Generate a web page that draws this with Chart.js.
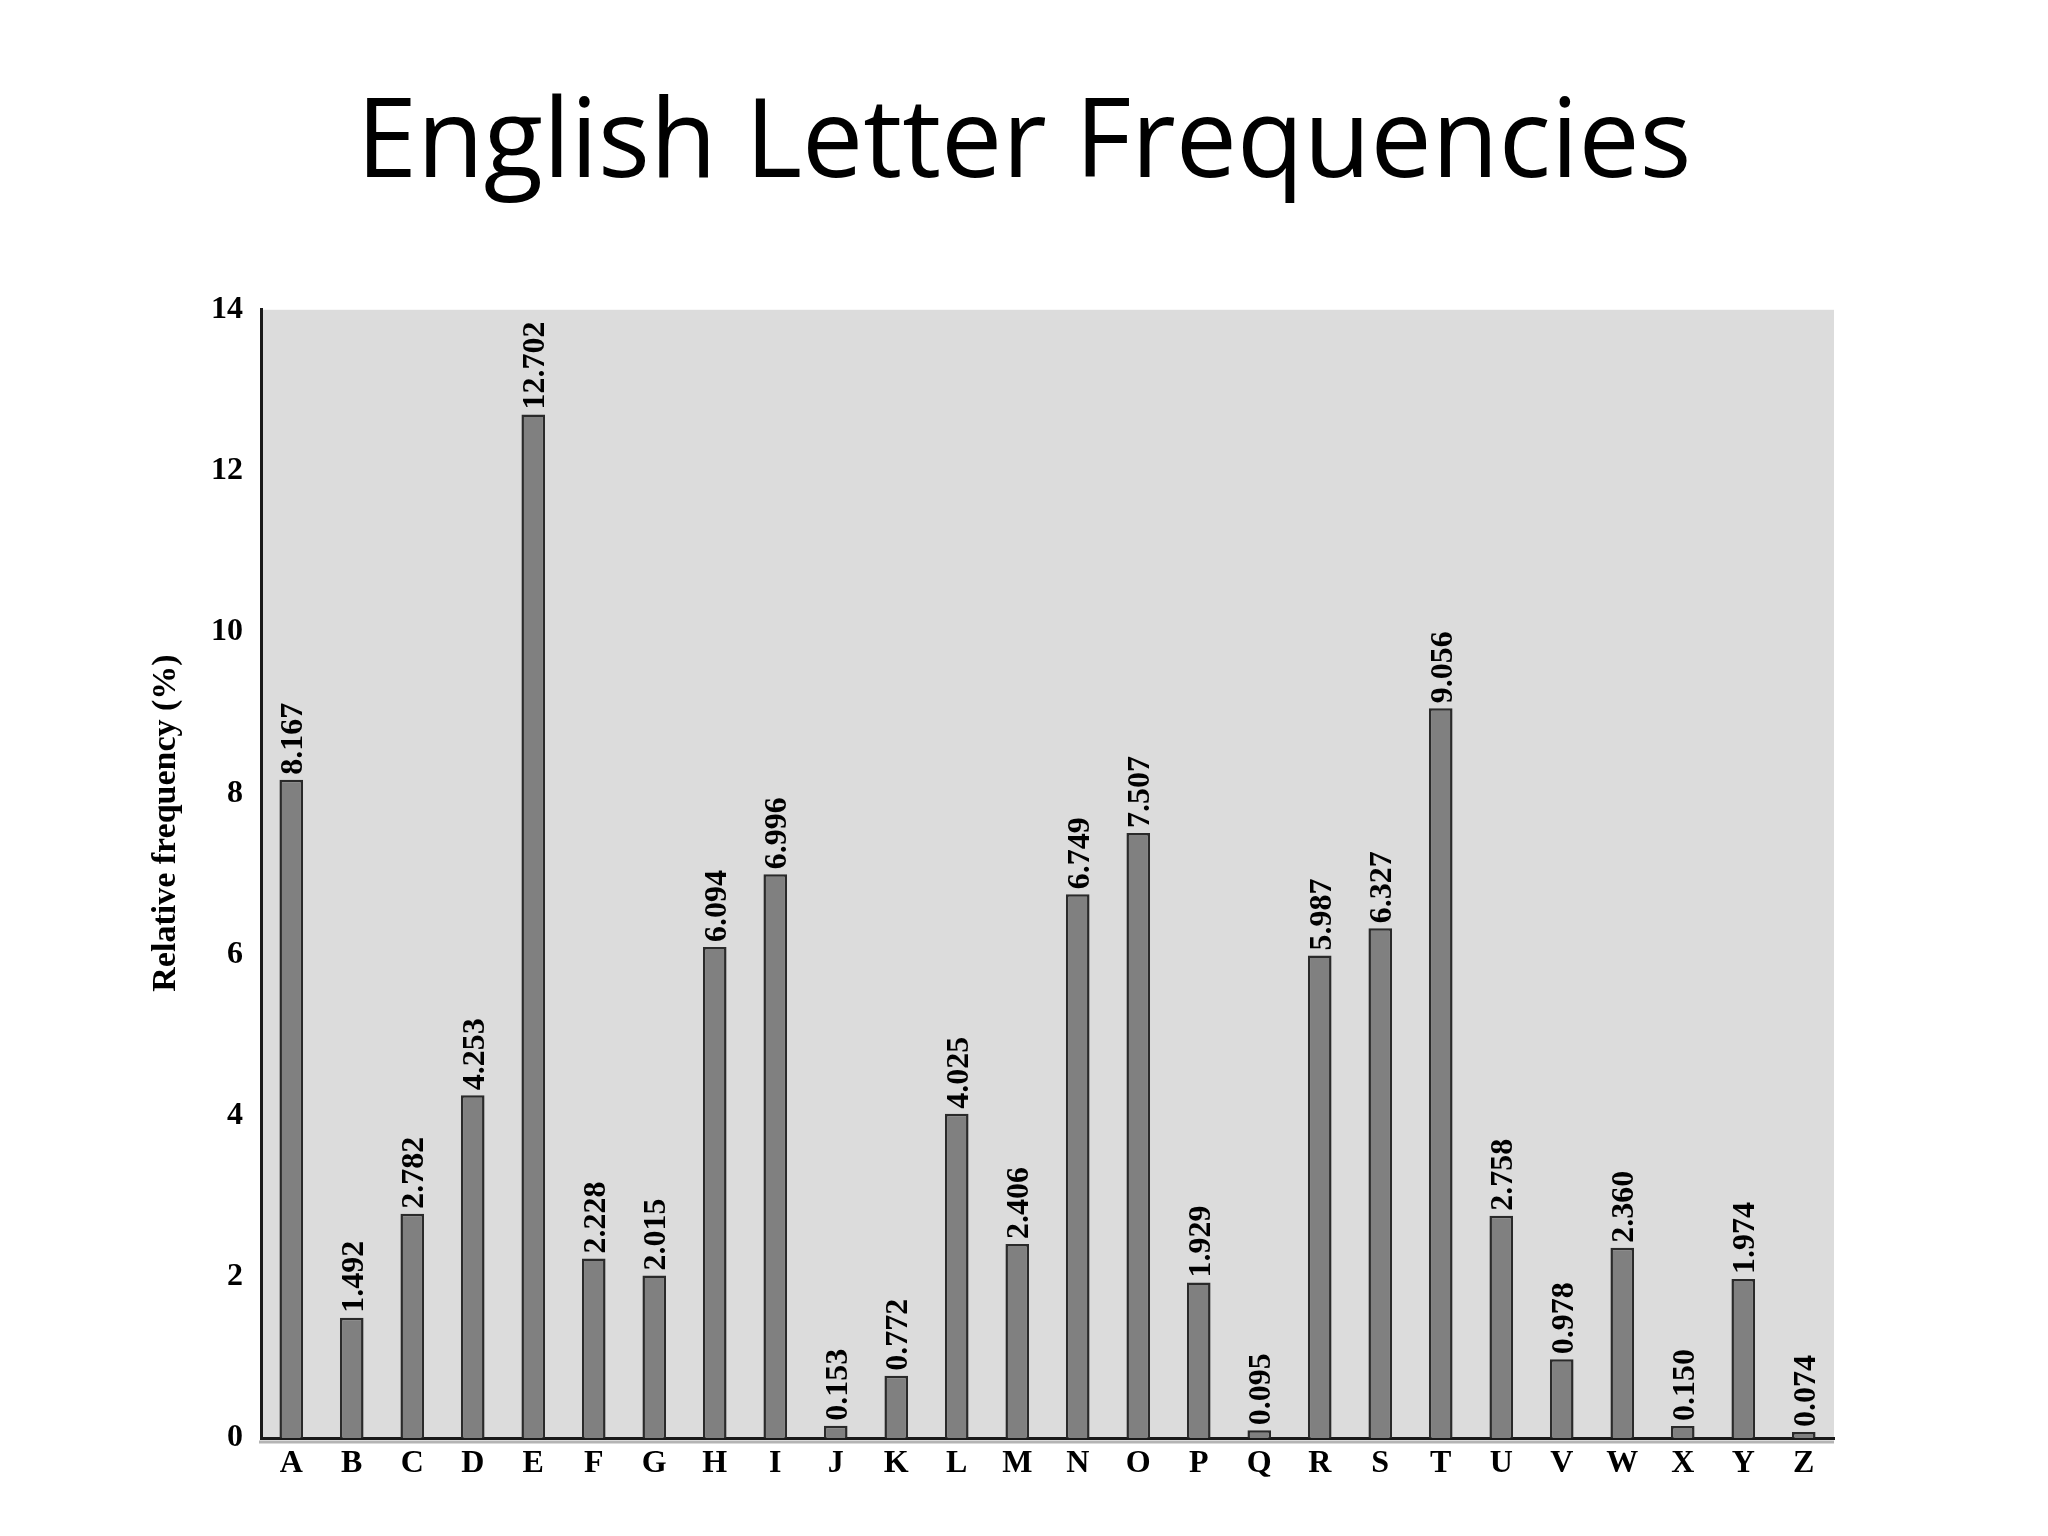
<!DOCTYPE html>
<html>
<head>
<meta charset="utf-8">
<script src="https://cdn.jsdelivr.net/npm/chart.js@4.4.1/dist/chart.umd.min.js"></script>
<style>
  html, body { margin: 0; padding: 0; background: #ffffff; }
  canvas { display: block; }
</style>
</head>
<body>
<canvas id="c" width="2048" height="1536" style="width:2048px;height:1536px"></canvas>
<script>
const letters = ['A','B','C','D','E','F','G','H','I','J','K','L','M','N','O','P','Q','R','S','T','U','V','W','X','Y','Z'];
const frequencies = [8.167, 1.492, 2.782, 4.253, 12.702, 2.228, 2.015, 6.094, 6.996, 0.153, 0.772, 4.025, 2.406, 6.749, 7.507, 1.929, 0.095, 5.987, 6.327, 9.056, 2.758, 0.978, 2.360, 0.150, 1.974, 0.074];
const yTicks = [0, 2, 4, 6, 8, 10, 12, 14];
const chartTitle = 'English Letter Frequencies';
const yAxisTitle = 'Relative frequency (%)';

const serif = '"Liberation Serif", "Times New Roman", serif';

const plotBackground = {
  id: 'plotBackground',
  beforeDraw(chart) {
    const {ctx, chartArea: a} = chart;
    ctx.save();
    ctx.fillStyle = '#dcdcdc';
    ctx.fillRect(a.left, a.top, a.right - a.left, a.bottom - a.top);
    ctx.restore();
  },
  afterDraw(chart) {
    const {ctx, chartArea: a} = chart;
    ctx.save();
    // soft shadow line under the x axis
    ctx.strokeStyle = '#b4b4b4';
    ctx.lineWidth = 3;
    ctx.beginPath();
    ctx.moveTo(a.left - 2, a.bottom + 4);
    ctx.lineTo(a.right, a.bottom + 4);
    ctx.stroke();
    // y axis title, placed as in the reference (above the plot's middle)
    ctx.fillStyle = '#000000';
    ctx.font = 'bold 34px ' + serif;
    ctx.textAlign = 'center';
    ctx.textBaseline = 'middle';
    ctx.translate(166, 823);
    ctx.rotate(-Math.PI / 2);
    ctx.fillText(yAxisTitle, 0, 0);
    ctx.restore();
  }
};

const valueLabels = {
  id: 'valueLabels',
  afterDatasetsDraw(chart) {
    const {ctx} = chart;
    const meta = chart.getDatasetMeta(0);
    ctx.save();
    ctx.fillStyle = '#000000';
    ctx.font = 'bold 32px ' + serif;
    ctx.textAlign = 'left';
    ctx.textBaseline = 'alphabetic';
    meta.data.forEach((bar, i) => {
      const txt = frequencies[i].toFixed(3);
      ctx.save();
      ctx.translate(bar.x, bar.y - 5);
      ctx.rotate(-Math.PI / 2);
      ctx.fillText(txt, 0, 11);
      ctx.restore();
    });
    ctx.restore();
  }
};

new Chart(document.getElementById('c'), {
  type: 'bar',
  data: {
    labels: letters,
    datasets: [{
      data: frequencies,
      backgroundColor: '#808080',
      borderColor: '#2a2a2a',
      borderWidth: 2.5,
      borderSkipped: 'bottom',
      barPercentage: 0.39,
      categoryPercentage: 1.0
    }]
  },
  options: {
    responsive: false,
    animation: false,
    devicePixelRatio: 1,
    layout: { padding: { left: 180, right: 180, top: 0, bottom: 38 } },
    plugins: {
      legend: { display: false },
      tooltip: { enabled: false },
      title: {
        display: true,
        text: chartTitle,
        color: '#000000',
        font: { family: '"Open Sans", sans-serif', size: 109, weight: 'normal', lineHeight: 1.2 },
        padding: { top: 81, bottom: 98 }
      }
    },
    scales: {
      x: {
        grid: { display: false, drawTicks: false },
        border: { display: true, color: '#1a1a1a', width: 3 },
        ticks: {
          color: '#000000',
          font: { family: serif, size: 32, weight: 'bold' },
          padding: 7,
          maxRotation: 0,
          autoSkip: false
        },
        afterFit(scale) { scale.height = 60; }
      },
      y: {
        min: 0,
        max: 14,
        grid: { display: false, drawTicks: false },
        border: { display: true, color: '#1a1a1a', width: 3 },
        afterBuildTicks(scale) { scale.ticks = yTicks.map(v => ({ value: v })); },
        ticks: {
          color: '#000000',
          font: { family: serif, size: 32, weight: 'bold' },
          padding: 18
        },
        title: { display: false },
        afterFit(scale) { scale.width = 81; }
      },
      yRight: {
        type: 'linear',
        position: 'right',
        display: true,
        min: 0,
        max: 14,
        grid: { display: false, drawTicks: false },
        border: { display: false },
        ticks: { display: false },
        afterFit(scale) { scale.width = 34; }
      }
    }
  },
  plugins: [plotBackground, valueLabels]
});
</script>
</body>
</html>
